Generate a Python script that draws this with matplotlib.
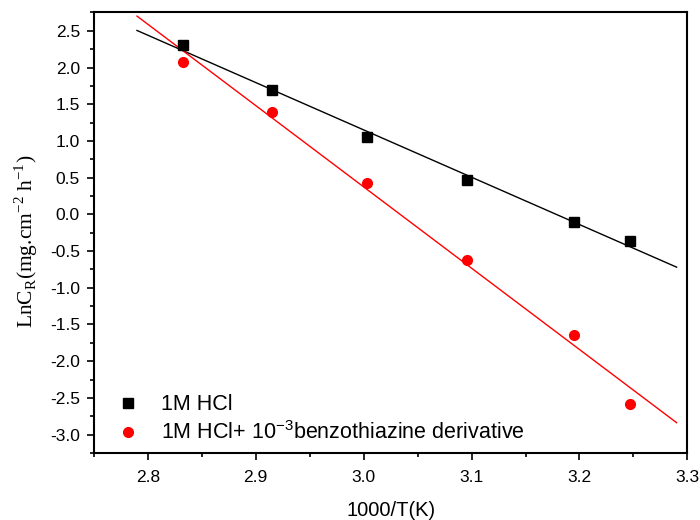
import numpy as np
import matplotlib.pyplot as plt
from matplotlib.ticker import MultipleLocator

# 1000/T values (T = 353, 343, 333, 323, 313, 308 K)
inv_T = [2.833, 2.915, 3.003, 3.096, 3.195, 3.247]
ln_cr_blank = [2.306, 1.689, 1.056, 0.462, -0.109, -0.363]
ln_cr_inhib = [2.075, 1.390, 0.421, -0.621, -1.640, -2.580]

labels = ["1M HCl", "1M HCl+ 10$^{\\mathregular{-3}}$benzothiazine derivative"]

plt.rcParams['font.family'] = ['Liberation Sans', 'DejaVu Sans']
plt.rcParams['axes.unicode_minus'] = False

fig = plt.figure(figsize=(7, 5.2), dpi=100)
ax = fig.add_axes([0.134, 0.129, 0.848, 0.847])

# linear fits
x_fit = np.array([2.79, 3.29])
for y, c in [(ln_cr_blank, 'black'), (ln_cr_inhib, 'red')]:
    k, b = np.polyfit(inv_T, y, 1)
    ax.plot(x_fit, k * x_fit + b, color=c, linewidth=1.0)

ax.plot(inv_T, ln_cr_blank, 's', color='black', markersize=6.5, label=labels[0])
ax.plot(inv_T, ln_cr_inhib, 'o', color='red', markersize=7, label=labels[1])

ax.set_xlim(2.75, 3.3)
ax.set_ylim(-3.25, 2.75)
ax.xaxis.set_major_locator(MultipleLocator(0.1))
ax.xaxis.set_minor_locator(MultipleLocator(0.05))
ax.yaxis.set_major_locator(MultipleLocator(0.5))
ax.yaxis.set_minor_locator(MultipleLocator(0.25))
ax.set_xticks([2.8, 2.9, 3.0, 3.1, 3.2, 3.3])
ax.tick_params(which='major', direction='out', length=5, width=1.2, labelsize=12.5)
ax.tick_params(axis='y', which='major', pad=5)
ax.tick_params(axis='x', which='major', pad=7)
ax.tick_params(which='minor', direction='out', length=3, width=1.2)
for s in ax.spines.values():
    s.set_linewidth(1.5)

ax.set_xlabel("1000/T(K)", fontsize=14.5, labelpad=12)
ax.set_ylabel("LnC$_\\mathregular{R}$(mg.cm$^{\\mathregular{-2}}$ h$^{\\mathregular{-1}}$)",
              fontsize=15.5, family=['Liberation Serif', 'DejaVu Serif'], labelpad=4)
ax.yaxis.set_label_coords(-0.09, 0.48)

ax.legend(loc='lower left', bbox_to_anchor=(0.0, -0.01), frameon=False,
          fontsize=15.5, handletextpad=0.5, labelspacing=0.3, borderaxespad=0.2)

fig.savefig("out.png")
